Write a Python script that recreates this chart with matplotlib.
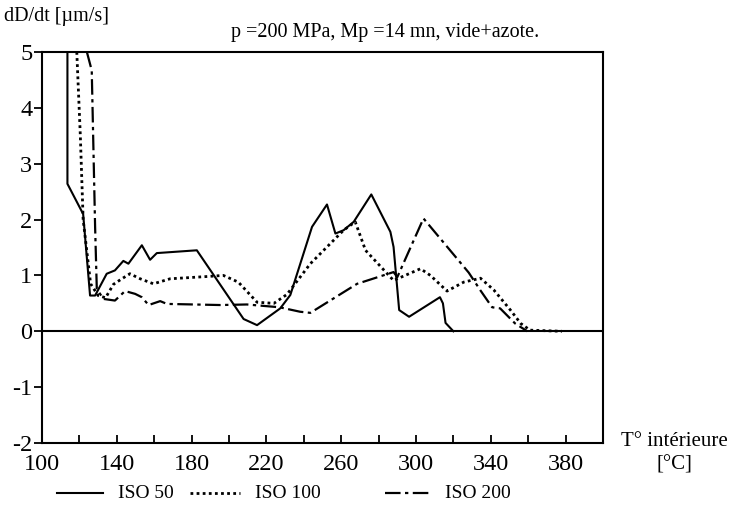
import matplotlib.pyplot as plt
import numpy as np
from matplotlib.lines import Line2D

plt.rcParams["font.family"] = ["Liberation Serif", "DejaVu Serif"]
plt.rcParams["axes.unicode_minus"] = False

# ISO 50 (solid)
t_iso50 = [113.6, 113.6, 122.0, 125.7, 128.4, 134.6, 139.0, 143.5, 146.2, 153.4,
           157.8, 161.4, 182.8, 207.8, 215.0, 227.4, 232.8, 244.4, 252.4, 256.9,
           261.3, 266.7, 276.1, 286.3, 288.0, 291.0, 296.3, 312.8, 314.4, 315.8,
           320.0]
v_iso50 = [5.0, 2.64, 2.10, 0.64, 0.64, 1.03, 1.09, 1.26, 1.21, 1.54,
           1.28, 1.40, 1.45, 0.22, 0.11, 0.41, 0.65, 1.87, 2.27, 1.75,
           1.81, 1.96, 2.45, 1.78, 1.51, 0.38, 0.26, 0.61, 0.50, 0.15,
           0.0]

# ISO 100 (dotted)
t_iso100 = [118.6, 120.5, 122.0, 126.0, 130.0, 134.0, 138.2, 142.7, 147.0, 152.5,
            159.6, 168.5, 188.0, 197.0, 205.0, 215.0, 224.0, 231.0, 243.5, 261.3,
            267.5, 273.0, 288.0, 302.4, 307.7, 316.6, 325.5, 334.5, 341.6, 350.5,
            356.0, 361.0, 378.0]
v_iso100 = [5.0, 3.5, 2.0, 0.85, 0.64, 0.60, 0.84, 0.94, 1.03, 0.94,
            0.85, 0.94, 0.98, 1.0, 0.88, 0.52, 0.50, 0.66, 1.21, 1.81,
            1.96, 1.45, 0.91, 1.12, 1.0, 0.72, 0.88, 0.95, 0.74, 0.38,
            0.14, 0.02, 0.0]

# ISO 200 (dash-dot)
t_iso200 = [124.0, 126.6, 128.4, 129.3, 132.8, 139.0, 144.4, 149.8, 153.4, 157.0,
            163.2, 166.8, 195.3, 209.6, 227.0, 238.0, 243.5, 268.5, 288.0, 290.0,
            304.0, 328.2, 334.5, 340.7, 345.0, 353.0, 359.5]
v_iso200 = [5.0, 4.67, 1.87, 0.76, 0.58, 0.55, 0.72, 0.67, 0.61, 0.47,
            0.54, 0.49, 0.47, 0.48, 0.43, 0.35, 0.33, 0.85, 1.06, 0.97,
            2.02, 1.05, 0.73, 0.43, 0.41, 0.14, 0.0]

labels = ["ISO 50", "ISO 100", "ISO 200"]
x_ticks = np.arange(100, 400, 40)
y_ticks = np.arange(-2, 6, 1)

styles = [
    dict(color="black", lw=1.5, ls="-"),
    dict(color="black", lw=2.0, ls=(0, (1, 1.2))),
    dict(color="black", lw=1.6, ls=(0, (7, 2, 1.5, 2))),
]

fig = plt.figure(figsize=(7.39, 5.29), dpi=100)
ax = fig.add_axes([42 / 739, 1 - 443 / 529, 561 / 739, 391 / 529])

for t, v, st in zip([t_iso50, t_iso100, t_iso200], [v_iso50, v_iso100, v_iso200], styles):
    ax.plot(t, v, **st)
ax.axhline(0, color="black", lw=1.5)

ax.set_xlim(100, 400)
ax.set_ylim(-2, 5)
for sp in ax.spines.values():
    sp.set_linewidth(1.5)

ax.set_xticks(x_ticks)
ax.set_xticks(np.arange(120, 400, 40), minor=True)
ax.set_yticks(y_ticks)
ax.set_yticklabels([str(v) for v in y_ticks])
ax.tick_params(axis="x", which="both", direction="in", length=6, width=1.3, labelsize=17.5, pad=8)
ax.tick_params(axis="y", direction="out", length=6, width=1.3, labelsize=17.5, pad=1)

fig.text(0.006, 1 - 17 / 529, "dD/dt [µm/s]", fontsize=14.5, ha="left", va="center")
fig.text(385 / 739, 1 - 33 / 529, "p =200 MPa, Mp =14 mn, vide+azote.", fontsize=14.5,
         ha="center", va="center")
fig.text(674 / 739, 1 - 441 / 529, "T° intérieure", fontsize=15, ha="center", va="center")
fig.text(674 / 739, 1 - 465 / 529, "[°C]", fontsize=15, ha="center", va="center")

# legend drawn by hand below the axes
leg_y = 1 - 493 / 529
leg_line_x = [(57, 103), (190, 240), (385, 430)]
for (x0, x1), lab, st in zip(leg_line_x, labels, styles):
    fig.add_artist(Line2D([x0 / 739, x1 / 739], [leg_y, leg_y], transform=fig.transFigure, **st))
    fig.text((x1 + 15) / 739, leg_y, lab, fontsize=14, ha="left", va="center")

plt.savefig("out.png", dpi=100)
